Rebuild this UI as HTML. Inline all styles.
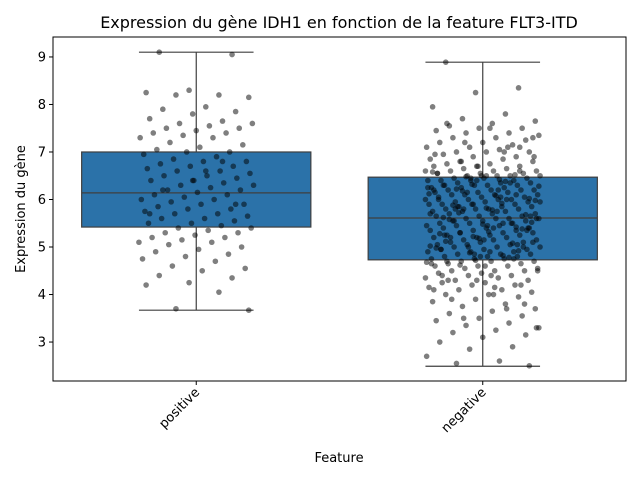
<!DOCTYPE html>
<html><head><meta charset="utf-8"><style>
body{margin:0;background:#fff;font-family:"DejaVu Sans","Liberation Sans",sans-serif}
</style></head><body>
<svg id="chart" width="639" height="479" xmlns="http://www.w3.org/2000/svg" font-family="'DejaVu Sans','Liberation Sans',sans-serif">
<rect width="639" height="479" fill="#fff"/>
<text x="339" y="28" text-anchor="middle" font-size="16">Expression du gène IDH1 en fonction de la feature FLT3-ITD</text>
<text transform="translate(25,209) rotate(-90)" text-anchor="middle" font-size="13">Expression du gène</text>
<text x="339" y="462" text-anchor="middle" font-size="13">Feature</text>
<g id="boxes"></g><g id="pts"></g><g id="axes"></g>
</svg>
<script>
const categories=["positive","negative"];
const whiskLow=[3.67,2.49];
const q1=[5.42,4.73];
const medians=[6.14,5.61];
const q3=[7.0,6.47];
const whiskHigh=[9.1,8.89];
const yTicks=[3,4,5,6,7,8,9];
const posValues=[9.1,9.05,8.3,8.25,8.2,8.2,8.15,7.95,7.9,7.85,7.8,7.7,7.65,7.6,7.6,7.55,7.5,7.5,7.45,7.4,7.4,7.35,7.3,7.3,7.2,7.15,7.1,7.05,7.0,7.0,6.95,6.9,6.85,6.8,6.8,6.75,6.7,6.7,6.65,6.6,6.6,6.55,6.5,6.5,6.45,6.4,6.4,6.35,6.3,6.3,6.25,6.2,6.2,6.15,6.1,6.1,6.05,6.0,6.0,5.95,5.9,5.9,5.85,5.8,5.8,5.75,5.7,5.7,5.65,5.6,5.6,5.55,5.5,5.5,5.45,5.4,5.4,5.35,5.3,5.3,5.25,5.2,5.2,5.15,5.1,5.1,5.05,5.0,4.95,4.9,4.85,4.8,4.75,4.7,4.6,4.55,4.5,4.4,4.35,4.25,4.2,4.05,3.7,3.67,6.6,6.2,5.9,6.4,5.7,6.8];
const negValues=[8.89,8.35,8.25,7.95,7.8,7.7,7.65,7.6,7.55,7.5,7.5,7.45,7.4,7.4,7.35,7.3,7.3,7.25,7.2,7.2,7.15,7.1,7.1,7.05,7.0,7.0,7.0,6.95,6.9,6.9,6.85,6.85,6.8,6.8,6.75,6.75,6.7,6.7,6.7,6.65,6.65,6.6,6.6,6.6,6.55,6.55,6.55,6.5,6.5,6.5,6.5,6.45,6.45,6.45,6.4,6.4,6.4,6.4,6.35,6.35,6.35,6.3,6.3,6.3,6.3,6.25,6.25,6.25,6.2,6.2,6.2,6.2,6.15,6.15,6.15,6.1,6.1,6.1,6.1,6.05,6.05,6.05,6.0,6.0,6.0,6.0,5.95,5.95,5.95,5.9,5.9,5.9,5.9,5.85,5.85,5.85,5.8,5.8,5.8,5.8,5.75,5.75,5.75,5.7,5.7,5.7,5.65,5.65,5.65,5.6,5.6,5.6,5.6,5.55,5.55,5.55,5.5,5.5,5.5,5.45,5.45,5.45,5.4,5.4,5.4,5.35,5.35,5.35,5.3,5.3,5.3,5.25,5.25,5.25,5.2,5.2,5.2,5.15,5.15,5.15,5.1,5.1,5.1,5.05,5.05,5.05,5.0,5.0,5.0,4.95,4.95,4.95,4.9,4.9,4.9,4.85,4.85,4.85,4.8,4.8,4.8,4.75,4.75,4.75,4.7,4.7,4.7,4.65,4.65,4.6,4.6,4.6,4.55,4.55,4.5,4.5,4.5,4.45,4.45,4.4,4.4,4.35,4.35,4.3,4.3,4.25,4.25,4.2,4.2,4.15,4.1,4.1,4.05,4.0,4.0,3.95,3.9,3.85,3.8,3.75,3.7,3.65,3.6,3.55,3.5,3.45,3.4,3.35,3.3,3.25,3.2,3.15,3.1,3.0,2.9,2.85,2.7,2.6,2.55,2.5,6.5,6.3,6.1,5.9,5.7,5.5,5.3,5.1,4.9,4.7,6.6,6.4,6.2,6.0,5.8,5.6,5.4,5.2,5.0,4.8,6.55,6.35,6.15,5.95,5.75,5.55,5.35,5.15,4.95,4.75,6.45,6.25,6.05,5.85,5.65,5.45,5.25,5.05,4.85,4.65,7.0,6.8,6.9,4.4,4.3,4.2,6.7,6.95,7.1,7.2,4.5,4.15,3.9,3.8,6.5,6.0,5.5,5.0,6.6,6.2,5.8,5.4,4.6,4.4,6.52,6.32,6.12,5.92,5.72,5.52,5.32,5.12,4.92,4.72,6.58,6.38,6.18,5.98,5.78,5.58,5.38,5.18,4.98,4.78,6.48,6.28,6.08,5.88,5.68,5.48,5.28,5.08,4.88,4.68,6.42,6.22,6.02,5.82,5.62,5.42,5.22,5.02,4.82,4.62,7.3,7.5,7.6,7.1,4.3,4.1,3.7,3.5,3.3,4.0];
const pointValues=[posValues,negValues];
const ns="http://www.w3.org/2000/svg";
const L=53,R=626,T=37,B=381,vMin=2.18,vMax=9.42;
const y=v=>B-(v-vMin)/(vMax-vMin)*(B-T);
const band=(R-L)/categories.length;
const xc=i=>L+band*(i+0.5);
function mk(tag,attrs,parent){const e=document.createElementNS(ns,tag);for(const k in attrs)e.setAttribute(k,attrs[k]);parent.appendChild(e);return e;}
const gb=document.getElementById('boxes'),gp=document.getElementById('pts'),ga=document.getElementById('axes');
const lc="#3f3f3f";
categories.forEach((c,i)=>{
  const cx=xc(i),w=band*0.8;
  let e=mk('line',{x1:cx,x2:cx,y1:y(whiskLow[i]),y2:y(q1[i]),stroke:lc,'stroke-width':1.2},gb);
  
  e=mk('line',{x1:cx,x2:cx,y1:y(q3[i]),y2:y(whiskHigh[i]),stroke:lc,'stroke-width':1.2},gb);
  
  e=mk('line',{x1:cx-w/4,x2:cx+w/4,y1:y(whiskLow[i]),y2:y(whiskLow[i]),stroke:lc,'stroke-width':1.2},gb);
  
  e=mk('line',{x1:cx-w/4,x2:cx+w/4,y1:y(whiskHigh[i]),y2:y(whiskHigh[i]),stroke:lc,'stroke-width':1.2},gb);
  
  e=mk('rect',{x:cx-w/2,y:y(q3[i]),width:w,height:y(q1[i])-y(q3[i]),fill:"#2b72a9",stroke:lc,'stroke-width':1.2},gb);
  
  e=mk('line',{x1:cx-w/2,x2:cx+w/2,y1:y(medians[i]),y2:y(medians[i]),stroke:lc,'stroke-width':1.2},gb);
  
  pointValues[i].forEach((v,j)=>{
    const jit=(((j*61+17)%97)/96-0.5)*band*0.4;
    const p=mk('circle',{cx:cx+jit,cy:y(v),r:2.8,fill:"#000",'fill-opacity':0.5},gp);
    
    
  });
});
let fr=mk('rect',{x:L,y:T,width:R-L,height:B-T,fill:'none',stroke:'#000','stroke-width':1},ga);

yTicks.forEach(t=>{
  const tl=mk('line',{x1:L-4,x2:L,y1:y(t),y2:y(t),stroke:'#000'},ga);
  
  const tx=mk('text',{x:L-7,y:y(t)+4.5,'text-anchor':'end','font-size':13},ga);
  tx.textContent=t;
  
});
categories.forEach((c,i)=>{
  const tl=mk('line',{x1:xc(i),x2:xc(i),y1:B,y2:B+4,stroke:'#000'},ga);
  
  const tx=mk('text',{transform:`translate(${xc(i)+4},${B+12}) rotate(-45)`,'text-anchor':'end','font-size':13},ga);
  tx.textContent=c;
  
});
</script>
</body></html>
